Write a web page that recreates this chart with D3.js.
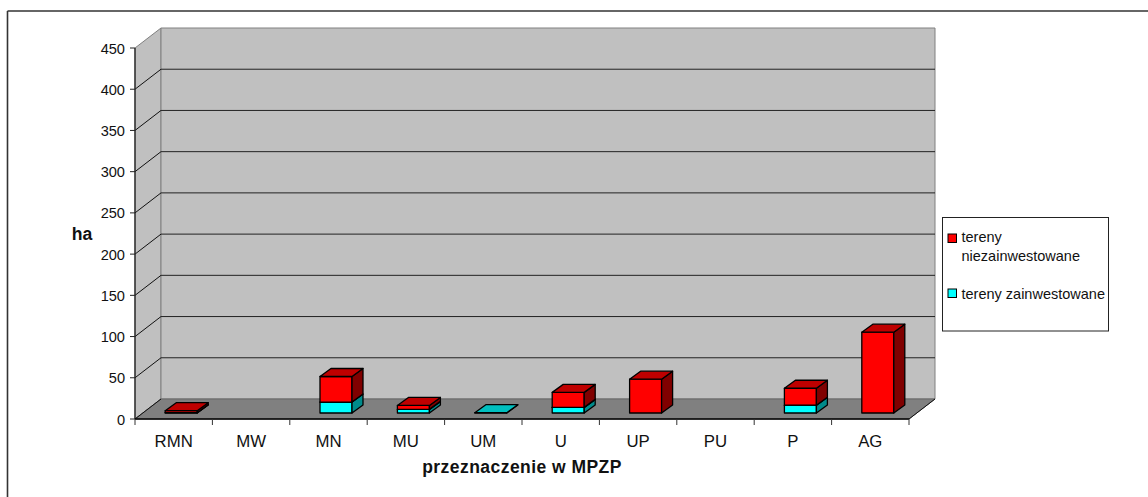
<!DOCTYPE html>
<html><head><meta charset="utf-8">
<script src="https://cdnjs.cloudflare.com/ajax/libs/d3/7.8.5/d3.min.js"></script>
<style>html,body{margin:0;padding:0;background:#fff}svg{display:block}text{font-family:"Liberation Sans",Arial,sans-serif;fill:#111}</style>
</head><body><svg id="c" width="1148" height="497"></svg>
<script>
const categories=["RMN","MW","MN","MU","UM","U","UP","PU","P","AG"];
const invested=[0.4,0,13.3,4.4,0.4,6.8,0,0,9.5,0];
const notInvested=[2.4,0,31,4.8,0,18.2,41,0,20.5,98];
const yTicks=[0,50,100,150,200,250,300,350,400,450];
const legendLabels=[["tereny","niezainwestowane"],["tereny zainwestowane"]];

const svg=d3.select("#c");
const dx=26,dy=-20;
const x=d3.scaleBand().domain(categories).range([135,909]);
const y=d3.scaleLinear().domain([0,450]).range([419,48]);
const line=(g,a,b,c,d,s,w=1)=>g.append("line").attr("x1",a).attr("y1",b).attr("x2",c).attr("y2",d).attr("stroke",s).attr("stroke-width",w);
const poly=(g,p,f,s="#000",w=1.3)=>g.append("polygon").attr("points",p.map(q=>q.join(",")).join(" ")).attr("fill",f).attr("stroke",s).attr("stroke-width",w).attr("stroke-linejoin","round");

// partial outer frame: only the top and left edges show
line(svg,7.5,11,1148,11,"#333",1.6);
line(svg,7.5,11,7.5,497,"#333",1.6);

const L=135,R=909,T=48,B=419;
poly(svg,[[L,T],[L+dx,T+dy],[L+dx,B+dy],[L,B]],"#c0c0c0","#808080",1);
poly(svg,[[L+dx,T+dy],[R+dx,T+dy],[R+dx,B+dy],[L+dx,B+dy]],"#c0c0c0","#808080",1);
poly(svg,[[L,B],[L+dx,B+dy],[R+dx,B+dy],[R,B]],"#808080","#666",1);

yTicks.slice(1,-1).forEach(t=>{
  line(svg,L,y(t),L+dx,y(t)+dy,"#111");
  line(svg,L+dx,y(t)+dy,R+dx,y(t)+dy,"#222");
});
line(svg,L,B,L+dx,B+dy,"#111");
line(svg,R,B,R+dx,B+dy,"#111");

// bars
const fx=7.5,fy=-6,bw=32,ox=11,oy=-8;
const stack=d3.stack().keys([0,1]).value((d,k)=>d[k])(categories.map((c,i)=>[invested[i],notInvested[i]]));
const cols=[{f:"#00ffff",t:"#00bfbf",s:"#008a8a"},{f:"#ff0000",t:"#bf0000",s:"#800000"}];
categories.forEach((c,i)=>{
  const x0=x(c)+x.bandwidth()/2+fx-bw/2,x1=x0+bw;
  [0,1].forEach(k=>{
    const v0=stack[k][i][0],v1=stack[k][i][1];
    if(v1-v0<=0) return;
    const yb=y(v0)+fy,yt=y(v1)+fy;
    const col=cols[k];
    poly(svg,[[x0,yb],[x1,yb],[x1,yt],[x0,yt]],col.f);
    poly(svg,[[x1,yb],[x1+ox,yb+oy],[x1+ox,yt+oy],[x1,yt]],col.s);
    poly(svg,[[x0,yt],[x1,yt],[x1+ox,yt+oy],[x0+ox,yt+oy]],col.t);
  });
});

// axes
line(svg,L,T,L,B,"#222",1.3);
line(svg,L,B,R,B,"#000",1.3);
yTicks.forEach(t=>{
  line(svg,L-5,y(t),L,y(t),"#222");
  svg.append("text").attr("x",L-10).attr("y",y(t)+5.5).attr("text-anchor","end").attr("font-size",14.6).text(t);
});
categories.forEach((c,i)=>{
  line(svg,x(c),B,x(c),B+6,"#333");
  svg.append("text").attr("x",x(c)+x.bandwidth()/2).attr("y",446.7).attr("text-anchor","middle").attr("font-size",16.8).text(c);
});
line(svg,R,B,R,B+6,"#333");

svg.append("text").attr("x",522).attr("y",473).attr("text-anchor","middle").attr("font-size",17.5).attr("letter-spacing",0.45).attr("font-weight","bold").text("przeznaczenie w MPZP");
svg.append("text").attr("x",82).attr("y",240).attr("text-anchor","middle").attr("font-size",17.6).attr("font-weight","bold").text("ha");

// legend
svg.append("rect").attr("x",942.5).attr("y",217.5).attr("width",166).attr("height",113.5).attr("fill","#fff").attr("stroke","#222");
[[238.5,0,3.5],[293.5,1,5]].forEach(([yy,k,off])=>{
  svg.append("rect").attr("x",948).attr("y",yy-4.5).attr("width",8.5).attr("height",8.5).attr("fill",cols[1-k].f).attr("stroke","#000");
  legendLabels[k].forEach((s,j)=>svg.append("text").attr("x",961.5).attr("y",yy+off+j*19).attr("font-size",14.5).text(s));
});
</script></body></html>
